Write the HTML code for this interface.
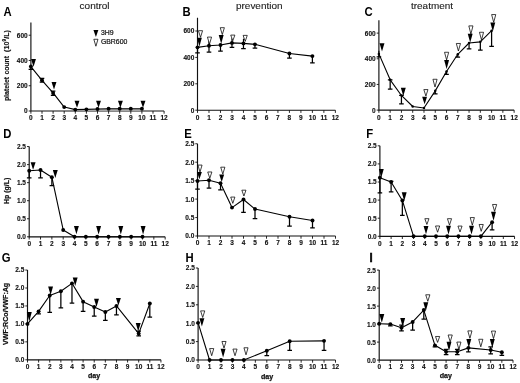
<!DOCTYPE html>
<html><head><meta charset="utf-8"><title>figure</title>
<style>html,body{margin:0;padding:0;background:#fff;}svg{display:block;}svg{filter:grayscale(1) blur(0.3px)}</style>
</head><body>
<svg width="520" height="383" viewBox="0 0 520 383" font-family='"Liberation Sans", sans-serif'>
<rect width="520" height="383" fill="#fff"/>
<path d="M30.9 22.59V111H164.1" fill="none" stroke="#111" stroke-width="1.15"/>
<path d="M28.7 111H30.9M28.7 85.74H30.9M28.7 60.48H30.9M28.7 35.22H30.9M30.9 111V113.7M42 111V113.7M53.1 111V113.7M64.2 111V113.7M75.3 111V113.7M86.4 111V113.7M97.5 111V113.7M108.6 111V113.7M119.7 111V113.7M130.8 111V113.7M141.9 111V113.7M153 111V113.7M164.1 111V113.7" stroke="#111" stroke-width="0.9"/>
<g font-size="6.5" font-weight="bold" fill="#111" stroke="#111" stroke-width="0.12"><text x="27.7" y="113.4" text-anchor="end">0</text><text x="27.7" y="88.14" text-anchor="end">200</text><text x="27.7" y="62.88" text-anchor="end">400</text><text x="27.7" y="37.62" text-anchor="end">600</text><text x="30.9" y="120.4" text-anchor="middle">0</text><text x="42" y="120.4" text-anchor="middle">1</text><text x="53.1" y="120.4" text-anchor="middle">2</text><text x="64.2" y="120.4" text-anchor="middle">3</text><text x="75.3" y="120.4" text-anchor="middle">4</text><text x="86.4" y="120.4" text-anchor="middle">5</text><text x="97.5" y="120.4" text-anchor="middle">6</text><text x="108.6" y="120.4" text-anchor="middle">7</text><text x="119.7" y="120.4" text-anchor="middle">8</text><text x="130.8" y="120.4" text-anchor="middle">9</text><text x="141.9" y="120.4" text-anchor="middle">10</text><text x="153" y="120.4" text-anchor="middle">11</text><text x="164.1" y="120.4" text-anchor="middle">12</text></g>
<polygon points="75.3,109.61 86.4,109.36 97.5,108.98 108.6,108.73 119.7,108.73 130.8,108.73 141.9,108.73 141.9,111 75.3,111" fill="#aaa"/>
<polyline points="30.9,66.54 42,80.31 53.1,92.94 64.2,107.08 75.3,109.61 86.4,109.36 97.5,108.98 108.6,108.73 119.7,108.73 130.8,108.73 141.9,108.73" fill="none" stroke="#000" stroke-width="1.1" stroke-linejoin="round"/>
<path d="M30.9 66.54V69.45M28.6 69.45H33.2M42 80.31V82.2M39.7 82.2H44.3M42 80.31V78.41M39.7 78.41H44.3M53.1 92.94V95.34M50.8 95.34H55.4M53.1 92.94V91.04M50.8 91.04H55.4" stroke="#000" stroke-width="1.25"/>
<circle cx="30.9" cy="66.54" r="1.95"/><circle cx="42" cy="80.31" r="1.95"/><circle cx="53.1" cy="92.94" r="1.95"/><circle cx="64.2" cy="107.08" r="1.95"/><circle cx="75.3" cy="109.61" r="1.95"/><circle cx="86.4" cy="109.36" r="1.95"/><circle cx="97.5" cy="108.98" r="1.95"/><circle cx="108.6" cy="108.73" r="1.95"/><circle cx="119.7" cy="108.73" r="1.95"/><circle cx="130.8" cy="108.73" r="1.95"/><circle cx="141.9" cy="108.73" r="1.95"/>
<path d="M31.05 59.1H35.95L33.5 66.8Z" fill="#000"/>
<path d="M51.55 81.9H56.45L54 89.5Z" fill="#000"/>
<path d="M74.55 100.8H79.45L77 107.7Z" fill="#000"/>
<path d="M96.05 100.8H100.95L98.5 107.7Z" fill="#000"/>
<path d="M117.95 100.8H122.85L120.4 107.7Z" fill="#000"/>
<path d="M140.55 100.8H145.45L143 107.7Z" fill="#000"/>
<path d="M197.5 17.8V110.2H335.38" fill="none" stroke="#111" stroke-width="1.15"/>
<path d="M195.3 110.2H197.5M195.3 83.8H197.5M195.3 57.4H197.5M195.3 31H197.5M197.5 110.2V112.9M208.99 110.2V112.9M220.48 110.2V112.9M231.97 110.2V112.9M243.46 110.2V112.9M254.95 110.2V112.9M266.44 110.2V112.9M277.93 110.2V112.9M289.42 110.2V112.9M300.91 110.2V112.9M312.4 110.2V112.9M323.89 110.2V112.9M335.38 110.2V112.9" stroke="#111" stroke-width="0.9"/>
<g font-size="6.5" font-weight="bold" fill="#111" stroke="#111" stroke-width="0.12"><text x="194.3" y="112.6" text-anchor="end">0</text><text x="194.3" y="86.2" text-anchor="end">200</text><text x="194.3" y="59.8" text-anchor="end">400</text><text x="194.3" y="33.4" text-anchor="end">600</text><text x="197.5" y="120" text-anchor="middle">0</text><text x="208.99" y="120" text-anchor="middle">1</text><text x="220.48" y="120" text-anchor="middle">2</text><text x="231.97" y="120" text-anchor="middle">3</text><text x="243.46" y="120" text-anchor="middle">4</text><text x="254.95" y="120" text-anchor="middle">5</text><text x="266.44" y="120" text-anchor="middle">6</text><text x="277.93" y="120" text-anchor="middle">7</text><text x="289.42" y="120" text-anchor="middle">8</text><text x="300.91" y="120" text-anchor="middle">9</text><text x="312.4" y="120" text-anchor="middle">10</text><text x="323.89" y="120" text-anchor="middle">11</text><text x="335.38" y="120" text-anchor="middle">12</text></g>
<polyline points="197.5,47.37 208.99,45.78 220.48,44.99 231.97,42.88 243.46,43.41 254.95,44.33 289.42,53.44 312.4,56.08" fill="none" stroke="#000" stroke-width="1.1" stroke-linejoin="round"/>
<path d="M197.5 47.37V52.78M195.2 52.78H199.8M208.99 45.78V52.12M206.69 52.12H211.29M220.48 44.99V51.06M218.18 51.06H222.78M231.97 42.88V47.37M229.67 47.37H234.27M243.46 43.41V48.69M241.16 48.69H245.76M254.95 44.33V48.03M252.65 48.03H257.25M289.42 53.44V58.06M287.12 58.06H291.72M312.4 56.08V62.81M310.1 62.81H314.7" stroke="#000" stroke-width="1.25"/>
<path d="M231.97 42.88V38.26M243.46 43.41V38.79M208.99 45.78V40.9" stroke="#000" stroke-width="1.1"/>
<circle cx="197.5" cy="47.37" r="1.95"/><circle cx="208.99" cy="45.78" r="1.95"/><circle cx="220.48" cy="44.99" r="1.95"/><circle cx="231.97" cy="42.88" r="1.95"/><circle cx="243.46" cy="43.41" r="1.95"/><circle cx="254.95" cy="44.33" r="1.95"/><circle cx="289.42" cy="53.44" r="1.95"/><circle cx="312.4" cy="56.08" r="1.95"/>
<path d="M198.43 30.68H202.57L200.5 37.32Z" fill="#fff" stroke="#000" stroke-width="0.75" stroke-linejoin="miter"/>
<path d="M207.43 37.08H211.57L209.5 44.12Z" fill="#fff" stroke="#000" stroke-width="0.75" stroke-linejoin="miter"/>
<path d="M220.23 27.68H224.38L222.3 34.62Z" fill="#fff" stroke="#000" stroke-width="0.75" stroke-linejoin="miter"/>
<path d="M230.73 35.08H234.88L232.8 40.73Z" fill="#fff" stroke="#000" stroke-width="0.75" stroke-linejoin="miter"/>
<path d="M243.12 35.38H247.27L245.2 41.42Z" fill="#fff" stroke="#000" stroke-width="0.75" stroke-linejoin="miter"/>
<path d="M196.95 37.7H201.85L199.4 46.4Z" fill="#000"/>
<path d="M218.75 35H223.65L221.2 43.7Z" fill="#000"/>
<path d="M378.9 20.29V110.1H514.14" fill="none" stroke="#111" stroke-width="1.15"/>
<path d="M376.7 110.1H378.9M376.7 84.44H378.9M376.7 58.78H378.9M376.7 33.12H378.9M378.9 110.1V112.8M390.17 110.1V112.8M401.44 110.1V112.8M412.71 110.1V112.8M423.98 110.1V112.8M435.25 110.1V112.8M446.52 110.1V112.8M457.79 110.1V112.8M469.06 110.1V112.8M480.33 110.1V112.8M491.6 110.1V112.8M502.87 110.1V112.8M514.14 110.1V112.8" stroke="#111" stroke-width="0.9"/>
<g font-size="6.5" font-weight="bold" fill="#111" stroke="#111" stroke-width="0.12"><text x="375.7" y="112.5" text-anchor="end">0</text><text x="375.7" y="86.84" text-anchor="end">200</text><text x="375.7" y="61.18" text-anchor="end">400</text><text x="375.7" y="35.52" text-anchor="end">600</text><text x="378.9" y="119.5" text-anchor="middle">0</text><text x="390.17" y="119.5" text-anchor="middle">1</text><text x="401.44" y="119.5" text-anchor="middle">2</text><text x="412.71" y="119.5" text-anchor="middle">3</text><text x="423.98" y="119.5" text-anchor="middle">4</text><text x="435.25" y="119.5" text-anchor="middle">5</text><text x="446.52" y="119.5" text-anchor="middle">6</text><text x="457.79" y="119.5" text-anchor="middle">7</text><text x="469.06" y="119.5" text-anchor="middle">8</text><text x="480.33" y="119.5" text-anchor="middle">9</text><text x="491.6" y="119.5" text-anchor="middle">10</text><text x="502.87" y="119.5" text-anchor="middle">11</text><text x="514.14" y="119.5" text-anchor="middle">12</text></g>
<polyline points="378.9,53.9 390.17,79.82 401.44,95.47 412.71,106.51 423.98,108.05 435.25,90.85 446.52,71.48 457.79,54.29 469.06,43 480.33,41.84 491.6,30.68" fill="none" stroke="#000" stroke-width="1.1" stroke-linejoin="round"/>
<path d="M378.9 53.9V56.98M376.6 56.98H381.2M390.17 79.82V89.19M387.87 89.19H392.47M390.17 79.82V79.82M387.87 79.82H392.47M401.44 95.47V103.81M399.14 103.81H403.74M401.44 95.47V95.47M399.14 95.47H403.74M435.25 90.85V93.81M432.95 93.81H437.55M446.52 71.48V74.43M444.22 74.43H448.82M457.79 54.29V57.24M455.49 57.24H460.09M469.06 43V48.77M466.76 48.77H471.36M480.33 41.84V50.06M478.03 50.06H482.63M491.6 30.68V46.46M489.3 46.46H493.9" stroke="#000" stroke-width="1.25"/>
<path d="M378.9 53.9V50.83" stroke="#000" stroke-width="1.1"/>
<circle cx="378.9" cy="53.9" r="1.25"/><circle cx="390.17" cy="79.82" r="1.25"/><circle cx="401.44" cy="95.47" r="1.25"/><circle cx="412.71" cy="106.51" r="1.25"/><circle cx="423.98" cy="108.05" r="1.25"/><circle cx="435.25" cy="90.85" r="1.25"/><circle cx="446.52" cy="71.48" r="1.25"/><circle cx="457.79" cy="54.29" r="1.25"/><circle cx="469.06" cy="43" r="1.25"/><circle cx="480.33" cy="41.84" r="1.25"/><circle cx="491.6" cy="30.68" r="1.25"/>
<path d="M423.82 89.58H427.97L425.9 96.03Z" fill="#fff" stroke="#000" stroke-width="0.75" stroke-linejoin="miter"/>
<path d="M432.93 79.28H437.07L435 87.03Z" fill="#fff" stroke="#000" stroke-width="0.75" stroke-linejoin="miter"/>
<path d="M444.53 52.27H448.68L446.6 59.92Z" fill="#fff" stroke="#000" stroke-width="0.75" stroke-linejoin="miter"/>
<path d="M456.32 43.48H460.47L458.4 51.02Z" fill="#fff" stroke="#000" stroke-width="0.75" stroke-linejoin="miter"/>
<path d="M468.82 25.88H472.97L470.9 34.02Z" fill="#fff" stroke="#000" stroke-width="0.75" stroke-linejoin="miter"/>
<path d="M479.43 32.27H483.57L481.5 39.92Z" fill="#fff" stroke="#000" stroke-width="0.75" stroke-linejoin="miter"/>
<path d="M491.62 14.57H495.77L493.7 22.32Z" fill="#fff" stroke="#000" stroke-width="0.75" stroke-linejoin="miter"/>
<path d="M379.55 43.3H384.45L382 51.5Z" fill="#000"/>
<path d="M400.85 87.7H405.75L403.3 96Z" fill="#000"/>
<path d="M422.15 96.7H427.05L424.6 104.3Z" fill="#000"/>
<path d="M444.15 60.1H449.05L446.6 69.1Z" fill="#000"/>
<path d="M467.75 33.7H472.65L470.2 42.5Z" fill="#000"/>
<path d="M490.35 22.4H495.25L492.8 31.5Z" fill="#000"/>
<path d="M29.2 146.55V236.8H165.16" fill="none" stroke="#111" stroke-width="1.15"/>
<path d="M27 236.8H29.2M27 218.75H29.2M27 200.7H29.2M27 182.65H29.2M27 164.6H29.2M27 146.55H29.2M29.2 236.8V239.5M40.53 236.8V239.5M51.86 236.8V239.5M63.19 236.8V239.5M74.52 236.8V239.5M85.85 236.8V239.5M97.18 236.8V239.5M108.51 236.8V239.5M119.84 236.8V239.5M131.17 236.8V239.5M142.5 236.8V239.5M153.83 236.8V239.5M165.16 236.8V239.5" stroke="#111" stroke-width="0.9"/>
<g font-size="6.5" font-weight="bold" fill="#111" stroke="#111" stroke-width="0.12"><text x="26" y="239.2" text-anchor="end">0.0</text><text x="26" y="221.15" text-anchor="end">0.5</text><text x="26" y="203.1" text-anchor="end">1.0</text><text x="26" y="185.05" text-anchor="end">1.5</text><text x="26" y="167" text-anchor="end">2.0</text><text x="26" y="148.95" text-anchor="end">2.5</text><text x="29.2" y="246.2" text-anchor="middle">0</text><text x="40.53" y="246.2" text-anchor="middle">1</text><text x="51.86" y="246.2" text-anchor="middle">2</text><text x="63.19" y="246.2" text-anchor="middle">3</text><text x="74.52" y="246.2" text-anchor="middle">4</text><text x="85.85" y="246.2" text-anchor="middle">5</text><text x="97.18" y="246.2" text-anchor="middle">6</text><text x="108.51" y="246.2" text-anchor="middle">7</text><text x="119.84" y="246.2" text-anchor="middle">8</text><text x="131.17" y="246.2" text-anchor="middle">9</text><text x="142.5" y="246.2" text-anchor="middle">10</text><text x="153.83" y="246.2" text-anchor="middle">11</text><text x="165.16" y="246.2" text-anchor="middle">12</text></g>
<polyline points="29.2,170.74 40.53,170.01 51.86,177.24 63.19,229.94 74.52,236.8 85.85,236.8 97.18,236.8 108.51,236.8 119.84,236.8 131.17,236.8 142.5,236.8" fill="none" stroke="#000" stroke-width="1.1" stroke-linejoin="round"/>
<path d="M29.2 170.74V177.96M26.9 177.96H31.5M40.53 170.01V177.96M38.23 177.96H42.83M51.86 177.24V185.54M49.56 185.54H54.16" stroke="#000" stroke-width="1.25"/>
<circle cx="29.2" cy="170.74" r="1.95"/><circle cx="40.53" cy="170.01" r="1.95"/><circle cx="51.86" cy="177.24" r="1.95"/><circle cx="63.19" cy="229.94" r="1.95"/><circle cx="74.52" cy="236.8" r="1.95"/><circle cx="85.85" cy="236.8" r="1.95"/><circle cx="97.18" cy="236.8" r="1.95"/><circle cx="108.51" cy="236.8" r="1.95"/><circle cx="119.84" cy="236.8" r="1.95"/><circle cx="131.17" cy="236.8" r="1.95"/><circle cx="142.5" cy="236.8" r="1.95"/>
<path d="M30.65 162.3H35.55L33.1 169.8Z" fill="#000"/>
<path d="M52.85 170.1H57.75L55.3 178.1Z" fill="#000"/>
<path d="M73.95 226.1H78.85L76.4 234.3Z" fill="#000"/>
<path d="M96.15 226.1H101.05L98.6 234.5Z" fill="#000"/>
<path d="M118.35 226.1H123.25L120.8 234.5Z" fill="#000"/>
<path d="M140.65 226.1H145.55L143.1 234.5Z" fill="#000"/>
<path d="M197.5 143.75V236H335.5" fill="none" stroke="#111" stroke-width="1.15"/>
<path d="M195.3 236H197.5M195.3 217.55H197.5M195.3 199.1H197.5M195.3 180.65H197.5M195.3 162.2H197.5M195.3 143.75H197.5M197.5 236V238.7M209 236V238.7M220.5 236V238.7M232 236V238.7M243.5 236V238.7M255 236V238.7M266.5 236V238.7M278 236V238.7M289.5 236V238.7M301 236V238.7M312.5 236V238.7M324 236V238.7M335.5 236V238.7" stroke="#111" stroke-width="0.9"/>
<g font-size="6.5" font-weight="bold" fill="#111" stroke="#111" stroke-width="0.12"><text x="194.3" y="238.4" text-anchor="end">0.0</text><text x="194.3" y="219.95" text-anchor="end">0.5</text><text x="194.3" y="201.5" text-anchor="end">1.0</text><text x="194.3" y="183.05" text-anchor="end">1.5</text><text x="194.3" y="164.6" text-anchor="end">2.0</text><text x="194.3" y="146.15" text-anchor="end">2.5</text><text x="197.5" y="245.4" text-anchor="middle">0</text><text x="209" y="245.4" text-anchor="middle">1</text><text x="220.5" y="245.4" text-anchor="middle">2</text><text x="232" y="245.4" text-anchor="middle">3</text><text x="243.5" y="245.4" text-anchor="middle">4</text><text x="255" y="245.4" text-anchor="middle">5</text><text x="266.5" y="245.4" text-anchor="middle">6</text><text x="278" y="245.4" text-anchor="middle">7</text><text x="289.5" y="245.4" text-anchor="middle">8</text><text x="301" y="245.4" text-anchor="middle">9</text><text x="312.5" y="245.4" text-anchor="middle">10</text><text x="324" y="245.4" text-anchor="middle">11</text><text x="335.5" y="245.4" text-anchor="middle">12</text></g>
<polyline points="197.5,181.02 209,180.28 220.5,183.23 232,207.59 243.5,199.47 255,209.06 289.5,216.81 312.5,220.5" fill="none" stroke="#000" stroke-width="1.1" stroke-linejoin="round"/>
<path d="M197.5 181.02V189.14M195.2 189.14H199.8M209 180.28V188.03M206.7 188.03H211.3M220.5 183.23V189.88M218.2 189.88H222.8M243.5 199.47V212.38M241.2 212.38H245.8M255 209.06V218.66M252.7 218.66H257.3M289.5 216.81V226.04M287.2 226.04H291.8M312.5 220.5V227.88M310.2 227.88H314.8" stroke="#000" stroke-width="1.25"/>
<circle cx="197.5" cy="181.02" r="1.95"/><circle cx="209" cy="180.28" r="1.95"/><circle cx="220.5" cy="183.23" r="1.95"/><circle cx="232" cy="207.59" r="1.95"/><circle cx="243.5" cy="199.47" r="1.95"/><circle cx="255" cy="209.06" r="1.95"/><circle cx="289.5" cy="216.81" r="1.95"/><circle cx="312.5" cy="220.5" r="1.95"/>
<path d="M197.93 165.07H202.07L200 172.03Z" fill="#fff" stroke="#000" stroke-width="0.75" stroke-linejoin="miter"/>
<path d="M207.73 171.97H211.88L209.8 178.22Z" fill="#fff" stroke="#000" stroke-width="0.75" stroke-linejoin="miter"/>
<path d="M220.73 167.18H224.88L222.8 174.12Z" fill="#fff" stroke="#000" stroke-width="0.75" stroke-linejoin="miter"/>
<path d="M230.73 197.07H234.88L232.8 203.33Z" fill="#fff" stroke="#000" stroke-width="0.75" stroke-linejoin="miter"/>
<path d="M241.83 190.18H245.97L243.9 196.03Z" fill="#fff" stroke="#000" stroke-width="0.75" stroke-linejoin="miter"/>
<path d="M196.95 172H201.85L199.4 179.2Z" fill="#000"/>
<path d="M219.25 174.5H224.15L221.7 182Z" fill="#000"/>
<path d="M379.9 145.8V236.3H514.54" fill="none" stroke="#111" stroke-width="1.15"/>
<path d="M377.7 236.3H379.9M377.7 218.2H379.9M377.7 200.1H379.9M377.7 182H379.9M377.7 163.9H379.9M377.7 145.8H379.9M379.9 236.3V239M391.12 236.3V239M402.34 236.3V239M413.56 236.3V239M424.78 236.3V239M436 236.3V239M447.22 236.3V239M458.44 236.3V239M469.66 236.3V239M480.88 236.3V239M492.1 236.3V239M503.32 236.3V239M514.54 236.3V239" stroke="#111" stroke-width="0.9"/>
<g font-size="6.5" font-weight="bold" fill="#111" stroke="#111" stroke-width="0.12"><text x="376.7" y="238.7" text-anchor="end">0.0</text><text x="376.7" y="220.6" text-anchor="end">0.5</text><text x="376.7" y="202.5" text-anchor="end">1.0</text><text x="376.7" y="184.4" text-anchor="end">1.5</text><text x="376.7" y="166.3" text-anchor="end">2.0</text><text x="376.7" y="148.2" text-anchor="end">2.5</text><text x="379.9" y="245.7" text-anchor="middle">0</text><text x="391.12" y="245.7" text-anchor="middle">1</text><text x="402.34" y="245.7" text-anchor="middle">2</text><text x="413.56" y="245.7" text-anchor="middle">3</text><text x="424.78" y="245.7" text-anchor="middle">4</text><text x="436" y="245.7" text-anchor="middle">5</text><text x="447.22" y="245.7" text-anchor="middle">6</text><text x="458.44" y="245.7" text-anchor="middle">7</text><text x="469.66" y="245.7" text-anchor="middle">8</text><text x="480.88" y="245.7" text-anchor="middle">9</text><text x="492.1" y="245.7" text-anchor="middle">10</text><text x="503.32" y="245.7" text-anchor="middle">11</text><text x="514.54" y="245.7" text-anchor="middle">12</text></g>
<polyline points="379.9,177.66 391.12,182 402.34,200.46 413.56,236.3 424.78,236.3 436,236.3 447.22,236.3 458.44,236.3 469.66,236.3 480.88,236.3 492.1,222.18" fill="none" stroke="#000" stroke-width="1.1" stroke-linejoin="round"/>
<path d="M379.9 177.66V192.86M377.6 192.86H382.2M391.12 182V191.77M388.82 191.77H393.42M391.12 182V181.28M388.82 181.28H393.42M402.34 200.46V215.3M400.04 215.3H404.64M492.1 222.18V229.78M489.8 229.78H494.4" stroke="#000" stroke-width="1.25"/>
<circle cx="379.9" cy="177.66" r="1.95"/><circle cx="391.12" cy="182" r="1.95"/><circle cx="402.34" cy="200.46" r="1.95"/><circle cx="413.56" cy="236.3" r="1.95"/><circle cx="424.78" cy="236.3" r="1.95"/><circle cx="436" cy="236.3" r="1.95"/><circle cx="447.22" cy="236.3" r="1.95"/><circle cx="458.44" cy="236.3" r="1.95"/><circle cx="469.66" cy="236.3" r="1.95"/><circle cx="480.88" cy="236.3" r="1.95"/><circle cx="492.1" cy="222.18" r="1.95"/>
<path d="M424.82 218.68H428.97L426.9 224.43Z" fill="#fff" stroke="#000" stroke-width="0.75" stroke-linejoin="miter"/>
<path d="M435.53 225.97H439.68L437.6 232.22Z" fill="#fff" stroke="#000" stroke-width="0.75" stroke-linejoin="miter"/>
<path d="M447.43 218.68H451.57L449.5 225.12Z" fill="#fff" stroke="#000" stroke-width="0.75" stroke-linejoin="miter"/>
<path d="M457.93 226.07H462.07L460 232.03Z" fill="#fff" stroke="#000" stroke-width="0.75" stroke-linejoin="miter"/>
<path d="M470.23 217.57H474.38L472.3 225.12Z" fill="#fff" stroke="#000" stroke-width="0.75" stroke-linejoin="miter"/>
<path d="M479.12 224.47H483.27L481.2 231.33Z" fill="#fff" stroke="#000" stroke-width="0.75" stroke-linejoin="miter"/>
<path d="M492.53 204.47H496.68L494.6 211.33Z" fill="#fff" stroke="#000" stroke-width="0.75" stroke-linejoin="miter"/>
<path d="M378.85 168.9H383.75L381.3 177.6Z" fill="#000"/>
<path d="M401.75 192.3H406.65L404.2 200.9Z" fill="#000"/>
<path d="M423.55 226.1H428.45L426 234.3Z" fill="#000"/>
<path d="M446.05 225.7H450.95L448.5 234.5Z" fill="#000"/>
<path d="M469.05 225.7H473.95L471.5 234.5Z" fill="#000"/>
<path d="M491.05 211.8H495.95L493.5 220.7Z" fill="#000"/>
<path d="M27.5 270.05V359.8H160.94" fill="none" stroke="#111" stroke-width="1.15"/>
<path d="M25.3 359.8H27.5M25.3 341.85H27.5M25.3 323.9H27.5M25.3 305.95H27.5M25.3 288H27.5M25.3 270.05H27.5M27.5 359.8V362.5M38.62 359.8V362.5M49.74 359.8V362.5M60.86 359.8V362.5M71.98 359.8V362.5M83.1 359.8V362.5M94.22 359.8V362.5M105.34 359.8V362.5M116.46 359.8V362.5M127.58 359.8V362.5M138.7 359.8V362.5M149.82 359.8V362.5M160.94 359.8V362.5" stroke="#111" stroke-width="0.9"/>
<g font-size="6.5" font-weight="bold" fill="#111" stroke="#111" stroke-width="0.12"><text x="24.3" y="362.2" text-anchor="end">0.0</text><text x="24.3" y="344.25" text-anchor="end">0.5</text><text x="24.3" y="326.3" text-anchor="end">1.0</text><text x="24.3" y="308.35" text-anchor="end">1.5</text><text x="24.3" y="290.4" text-anchor="end">2.0</text><text x="24.3" y="272.45" text-anchor="end">2.5</text><text x="27.5" y="368.9" text-anchor="middle">0</text><text x="38.62" y="368.9" text-anchor="middle">1</text><text x="49.74" y="368.9" text-anchor="middle">2</text><text x="60.86" y="368.9" text-anchor="middle">3</text><text x="71.98" y="368.9" text-anchor="middle">4</text><text x="83.1" y="368.9" text-anchor="middle">5</text><text x="94.22" y="368.9" text-anchor="middle">6</text><text x="105.34" y="368.9" text-anchor="middle">7</text><text x="116.46" y="368.9" text-anchor="middle">8</text><text x="127.58" y="368.9" text-anchor="middle">9</text><text x="138.7" y="368.9" text-anchor="middle">10</text><text x="149.82" y="368.9" text-anchor="middle">11</text><text x="160.94" y="368.9" text-anchor="middle">12</text></g>
<polyline points="27.5,323.9 38.62,311.34 49.74,295.54 60.86,291.23 71.98,283.33 83.1,301.64 94.22,307.03 105.34,312.05 116.46,305.95 138.7,333.59 149.82,303.44" fill="none" stroke="#000" stroke-width="1.1" stroke-linejoin="round"/>
<path d="M38.62 311.34V313.85M36.32 313.85H40.92M49.74 295.54V312.41M47.44 312.41H52.04M60.86 291.23V307.75M58.56 307.75H63.16M71.98 283.33V303.08M69.68 303.08H74.28M83.1 301.64V311.34M80.8 311.34H85.4M94.22 307.03V316M91.92 316H96.52M105.34 312.05V320.31M103.04 320.31H107.64M116.46 305.95V314.93M114.16 314.93H118.76M138.7 333.59V335.75M136.4 335.75H141M138.7 333.59V331.08M136.4 331.08H141M149.82 303.44V317.08M147.52 317.08H152.12" stroke="#000" stroke-width="1.25"/>
<circle cx="27.5" cy="323.9" r="1.95"/><circle cx="38.62" cy="311.34" r="1.95"/><circle cx="49.74" cy="295.54" r="1.95"/><circle cx="60.86" cy="291.23" r="1.95"/><circle cx="71.98" cy="283.33" r="1.95"/><circle cx="83.1" cy="301.64" r="1.95"/><circle cx="94.22" cy="307.03" r="1.95"/><circle cx="105.34" cy="312.05" r="1.95"/><circle cx="116.46" cy="305.95" r="1.95"/><circle cx="138.7" cy="333.59" r="1.95"/><circle cx="149.82" cy="303.44" r="1.95"/>
<path d="M26.85 312.1H31.75L29.3 321.4Z" fill="#000"/>
<path d="M48.15 286.4H53.05L50.6 294.9Z" fill="#000"/>
<path d="M72.75 277.6H77.65L75.2 285.9Z" fill="#000"/>
<path d="M94.05 298.7H98.95L96.5 307Z" fill="#000"/>
<path d="M115.95 297.9H120.85L118.4 305.5Z" fill="#000"/>
<path d="M135.75 322.9H140.65L138.2 331.6Z" fill="#000"/>
<path d="M198.1 268V360H335.5" fill="none" stroke="#111" stroke-width="1.15"/>
<path d="M195.9 360H198.1M195.9 341.6H198.1M195.9 323.2H198.1M195.9 304.8H198.1M195.9 286.4H198.1M195.9 268H198.1M198.1 360V362.7M209.55 360V362.7M221 360V362.7M232.45 360V362.7M243.9 360V362.7M255.35 360V362.7M266.8 360V362.7M278.25 360V362.7M289.7 360V362.7M301.15 360V362.7M312.6 360V362.7M324.05 360V362.7M335.5 360V362.7" stroke="#111" stroke-width="0.9"/>
<g font-size="6.5" font-weight="bold" fill="#111" stroke="#111" stroke-width="0.12"><text x="194.9" y="362.4" text-anchor="end">0.0</text><text x="194.9" y="344" text-anchor="end">0.5</text><text x="194.9" y="325.6" text-anchor="end">1.0</text><text x="194.9" y="307.2" text-anchor="end">1.5</text><text x="194.9" y="288.8" text-anchor="end">2.0</text><text x="194.9" y="270.4" text-anchor="end">2.5</text><text x="198.1" y="369.4" text-anchor="middle">0</text><text x="209.55" y="369.4" text-anchor="middle">1</text><text x="221" y="369.4" text-anchor="middle">2</text><text x="232.45" y="369.4" text-anchor="middle">3</text><text x="243.9" y="369.4" text-anchor="middle">4</text><text x="255.35" y="369.4" text-anchor="middle">5</text><text x="266.8" y="369.4" text-anchor="middle">6</text><text x="278.25" y="369.4" text-anchor="middle">7</text><text x="289.7" y="369.4" text-anchor="middle">8</text><text x="301.15" y="369.4" text-anchor="middle">9</text><text x="312.6" y="369.4" text-anchor="middle">10</text><text x="324.05" y="369.4" text-anchor="middle">11</text><text x="335.5" y="369.4" text-anchor="middle">12</text></g>
<polyline points="198.1,322.83 209.55,360 221,360 232.45,360 243.9,360 266.8,350.8 289.7,341.23 324.05,340.86" fill="none" stroke="#000" stroke-width="1.1" stroke-linejoin="round"/>
<path d="M266.8 350.8V355.58M264.5 355.58H269.1M289.7 341.23V350.43M287.4 350.43H292M324.05 340.86V350.43M321.75 350.43H326.35" stroke="#000" stroke-width="1.25"/>
<circle cx="198.1" cy="322.83" r="1.95"/><circle cx="209.55" cy="360" r="1.95"/><circle cx="221" cy="360" r="1.95"/><circle cx="232.45" cy="360" r="1.95"/><circle cx="243.9" cy="360" r="1.95"/><circle cx="266.8" cy="350.8" r="1.95"/><circle cx="289.7" cy="341.23" r="1.95"/><circle cx="324.05" cy="340.86" r="1.95"/>
<path d="M200.62 310.88H204.77L202.7 317.52Z" fill="#fff" stroke="#000" stroke-width="0.75" stroke-linejoin="miter"/>
<path d="M209.62 348.57H213.77L211.7 355.72Z" fill="#fff" stroke="#000" stroke-width="0.75" stroke-linejoin="miter"/>
<path d="M221.93 341.48H226.07L224 348.02Z" fill="#fff" stroke="#000" stroke-width="0.75" stroke-linejoin="miter"/>
<path d="M232.93 349.07H237.07L235 355.72Z" fill="#fff" stroke="#000" stroke-width="0.75" stroke-linejoin="miter"/>
<path d="M243.93 347.77H248.07L246 354.82Z" fill="#fff" stroke="#000" stroke-width="0.75" stroke-linejoin="miter"/>
<path d="M199.45 318.2H204.35L201.9 326.6Z" fill="#000"/>
<path d="M220.65 348.7H225.55L223.1 357.5Z" fill="#000"/>
<path d="M379.2 270.1V360.1H513" fill="none" stroke="#111" stroke-width="1.15"/>
<path d="M377 360.1H379.2M377 342.1H379.2M377 324.1H379.2M377 306.1H379.2M377 288.1H379.2M377 270.1H379.2M379.2 360.1V362.8M390.35 360.1V362.8M401.5 360.1V362.8M412.65 360.1V362.8M423.8 360.1V362.8M434.95 360.1V362.8M446.1 360.1V362.8M457.25 360.1V362.8M468.4 360.1V362.8M479.55 360.1V362.8M490.7 360.1V362.8M501.85 360.1V362.8M513 360.1V362.8" stroke="#111" stroke-width="0.9"/>
<g font-size="6.5" font-weight="bold" fill="#111" stroke="#111" stroke-width="0.12"><text x="376" y="362.5" text-anchor="end">0.0</text><text x="376" y="344.5" text-anchor="end">0.5</text><text x="376" y="326.5" text-anchor="end">1.0</text><text x="376" y="308.5" text-anchor="end">1.5</text><text x="376" y="290.5" text-anchor="end">2.0</text><text x="376" y="272.5" text-anchor="end">2.5</text><text x="379.2" y="369.3" text-anchor="middle">0</text><text x="390.35" y="369.3" text-anchor="middle">1</text><text x="401.5" y="369.3" text-anchor="middle">2</text><text x="412.65" y="369.3" text-anchor="middle">3</text><text x="423.8" y="369.3" text-anchor="middle">4</text><text x="434.95" y="369.3" text-anchor="middle">5</text><text x="446.1" y="369.3" text-anchor="middle">6</text><text x="457.25" y="369.3" text-anchor="middle">7</text><text x="468.4" y="369.3" text-anchor="middle">8</text><text x="479.55" y="369.3" text-anchor="middle">9</text><text x="490.7" y="369.3" text-anchor="middle">10</text><text x="501.85" y="369.3" text-anchor="middle">11</text><text x="513" y="369.3" text-anchor="middle">12</text></g>
<polyline points="379.2,323.74 390.35,324.1 401.5,327.7 412.65,321.94 423.8,310.06 434.95,345.34 446.1,351.82 457.25,351.82 468.4,347.86 490.7,350.02 501.85,352.18" fill="none" stroke="#000" stroke-width="1.1" stroke-linejoin="round"/>
<path d="M390.35 324.1V325.9M388.05 325.9H392.65M401.5 327.7V330.94M399.2 330.94H403.8M401.5 327.7V325.18M399.2 325.18H403.8M412.65 321.94V330.22M410.35 330.22H414.95M423.8 310.06V319.06M421.5 319.06H426.1M434.95 345.34V346.78M432.65 346.78H437.25M446.1 351.82V354.7M443.8 354.7H448.4M446.1 351.82V349.3M443.8 349.3H448.4M457.25 351.82V354.7M454.95 354.7H459.55M457.25 351.82V349.3M454.95 349.3H459.55M468.4 347.86V351.82M466.1 351.82H470.7M490.7 350.02V353.98M488.4 353.98H493M490.7 350.02V346.78M488.4 346.78H493M501.85 352.18V355.42M499.55 355.42H504.15" stroke="#000" stroke-width="1.25"/>
<circle cx="379.2" cy="323.74" r="1.95"/><circle cx="390.35" cy="324.1" r="1.95"/><circle cx="401.5" cy="327.7" r="1.95"/><circle cx="412.65" cy="321.94" r="1.95"/><circle cx="423.8" cy="310.06" r="1.95"/><circle cx="434.95" cy="345.34" r="1.95"/><circle cx="446.1" cy="351.82" r="1.95"/><circle cx="457.25" cy="351.82" r="1.95"/><circle cx="468.4" cy="347.86" r="1.95"/><circle cx="490.7" cy="350.02" r="1.95"/><circle cx="501.85" cy="352.18" r="1.95"/>
<path d="M425.73 294.77H429.88L427.8 301.32Z" fill="#fff" stroke="#000" stroke-width="0.75" stroke-linejoin="miter"/>
<path d="M435.53 336.48H439.68L437.6 342.42Z" fill="#fff" stroke="#000" stroke-width="0.75" stroke-linejoin="miter"/>
<path d="M448.12 334.98H452.27L450.2 341.92Z" fill="#fff" stroke="#000" stroke-width="0.75" stroke-linejoin="miter"/>
<path d="M456.82 342.07H460.97L458.9 349.32Z" fill="#fff" stroke="#000" stroke-width="0.75" stroke-linejoin="miter"/>
<path d="M467.82 330.88H471.97L469.9 338.32Z" fill="#fff" stroke="#000" stroke-width="0.75" stroke-linejoin="miter"/>
<path d="M478.73 339.27H482.88L480.8 346.82Z" fill="#fff" stroke="#000" stroke-width="0.75" stroke-linejoin="miter"/>
<path d="M491.43 331.07H495.57L493.5 338.62Z" fill="#fff" stroke="#000" stroke-width="0.75" stroke-linejoin="miter"/>
<path d="M379.35 314H384.25L381.8 322.8Z" fill="#000"/>
<path d="M400.25 317.9H405.15L402.7 326.7Z" fill="#000"/>
<path d="M423.35 302.2H428.25L425.8 311.1Z" fill="#000"/>
<path d="M446.55 341.7H451.45L449 351.1Z" fill="#000"/>
<path d="M466.35 338.9H471.25L468.8 347.8Z" fill="#000"/>
<path d="M489.85 338.9H494.75L492.3 347.8Z" fill="#000"/>
<g font-size="9.8" fill="#222" stroke="#222" stroke-width="0.12"><text x="79.6" y="9.1" textLength="30" lengthAdjust="spacingAndGlyphs">control</text><text x="236" y="9.1" textLength="46.5" lengthAdjust="spacingAndGlyphs">prevention</text><text x="411" y="9.1" textLength="42" lengthAdjust="spacingAndGlyphs">treatment</text></g>
<g font-size="11.3" font-weight="bold" fill="#000"><text transform="translate(3.6 15.6) scale(1 1.1)">A</text><text transform="translate(182.5 15.8) scale(1 1.1)">B</text><text transform="translate(364.4 15.6) scale(1 1.1)">C</text><text transform="translate(3.2 137.5) scale(1 1.1)">D</text><text transform="translate(184.2 137.5) scale(1 1.1)">E</text><text transform="translate(366.3 137.5) scale(1 1.1)">F</text><text transform="translate(1.8 261.6) scale(1 1.1)">G</text><text transform="translate(185.5 261.6) scale(1 1.1)">H</text><text transform="translate(369.4 261.6) scale(1 1.1)" stroke="#000" stroke-width="0.45">I</text></g>
<path d="M93.45 30.1H98.35L95.9 36.9Z" fill="#000"/>
<path d="M93.83 39.27H97.98L95.9 46.23Z" fill="#fff" stroke="#000" stroke-width="0.75" stroke-linejoin="miter"/>
<g font-size="6.9" fill="#111" stroke="#111" stroke-width="0.2"><text x="100.9" y="35.1">3H9</text><text x="100.9" y="44.2">GBR600</text></g>
<g font-weight="bold" font-size="7" fill="#111" stroke="#111" stroke-width="0.2"><g font-size="6.3" stroke-width="0.14"><text transform="translate(9.2 101.1) rotate(-90)" textLength="24.2" lengthAdjust="spacingAndGlyphs">platelet</text><text transform="translate(9.2 74.6) rotate(-90)" textLength="18.7" lengthAdjust="spacingAndGlyphs">count</text><text transform="translate(9.2 52.0) rotate(-90)" textLength="10.4" lengthAdjust="spacingAndGlyphs">(10</text><text transform="translate(6.4 41.4) rotate(-90)" font-size="4.6">9</text><text transform="translate(9.2 38.8) rotate(-90)" textLength="8.6" lengthAdjust="spacingAndGlyphs">/L)</text></g><text transform="translate(9.2 203.9) rotate(-90)" textLength="26.2" lengthAdjust="spacingAndGlyphs">Hp (g/L)</text><text transform="translate(7.5 345.0) rotate(-90)" textLength="62.2" lengthAdjust="spacingAndGlyphs" font-size="7">VWF:RCo/VWF:Ag</text></g>
<g font-weight="bold" font-size="7.1" fill="#111" stroke="#111" stroke-width="0.25"><text x="94.1" y="377.9" text-anchor="middle">day</text><text x="267" y="378.6" text-anchor="middle">day</text><text x="445.8" y="378.3" text-anchor="middle">day</text></g>
</svg>
</body></html>
